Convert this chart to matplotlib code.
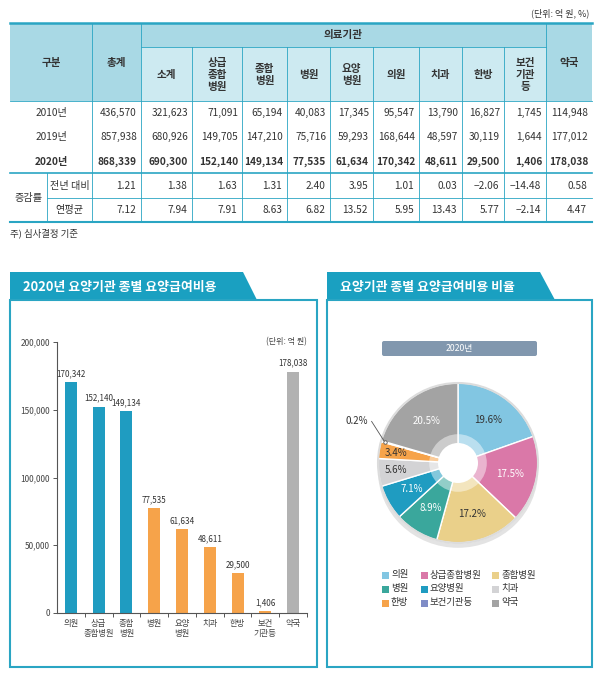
import matplotlib
matplotlib.use('Agg')
import matplotlib.pyplot as plt
import numpy as np
from matplotlib.patches import Rectangle, Polygon, FancyBboxPatch, Circle, Ellipse

plt.rcParams['font.family'] = ['Noto Sans CJK KR', 'DejaVu Sans']

W, H = 602, 677

# ---- table data ----
years = ['2010년', '2019년', '2020년']
col_heads = ['총계', '소계', '상급\n종합\n병원', '종합\n병원', '병원', '요양\n병원',
             '의원', '치과', '한방', '보건\n기관\n등', '약국']
vals_2010 = [436570, 321623, 71091, 65194, 40083, 17345, 95547, 13790, 16827, 1745, 114948]
vals_2019 = [857938, 680926, 149705, 147210, 75716, 59293, 168644, 48597, 30119, 1644, 177012]
vals_2020 = [868339, 690300, 152140, 149134, 77535, 61634, 170342, 48611, 29500, 1406, 178038]
rate_prev = [1.21, 1.38, 1.63, 1.31, 2.40, 3.95, 1.01, 0.03, -2.06, -14.48, 0.58]
rate_avg = [7.12, 7.94, 7.91, 8.63, 6.82, 13.52, 5.95, 13.43, 5.77, -2.14, 4.47]

# ---- chart data (2020) ----
cats = ['의원', '상급종합병원', '종합병원', '병원', '요양병원', '치과', '한방', '보건기관등', '약국']
cat_ticks = ['의원', '상급\n종합병원', '종합\n병원', '병원', '요양\n병원', '치과', '한방', '보건\n기관등', '약국']
bar_vals = [170342, 152140, 149134, 77535, 61634, 48611, 29500, 1406, 178038]
pie_pct = [19.6, 17.5, 17.2, 8.9, 7.1, 5.6, 3.4, 0.2, 20.5]

teal = '#2aa5c3'
banner = '#1aa0c1'
hd_dark = '#a9d9e5'
hd_light = '#cdeaf1'
txt = '#333333'

fig = plt.figure(figsize=(W / 100, H / 100), dpi=100)
bg = fig.add_axes([0, 0, 1, 1])
bg.set_xlim(0, W)
bg.set_ylim(H, 0)
bg.axis('off')


def fmt_rate(v):
    return f"{v:.2f}".replace('-', '\u2212')


# ---------------- table ----------------
xb = [10, 92, 141, 192, 242, 287, 330, 373, 419, 462, 504, 546, 592]
y_top, y_sub, y_hb, y_r, y_mid, y_bot = 23, 47, 101, 173, 198, 222

bg.text(589, 13, '(단위: 억 원, %)', ha='right', va='center', fontsize=6.5, color=txt)
bg.add_patch(Rectangle((xb[0], y_top), xb[-1] - xb[0], y_hb - y_top, color=hd_dark, lw=0))
bg.add_patch(Rectangle((xb[2], y_sub), xb[-2] - xb[2], y_hb - y_sub, color=hd_light, lw=0))

bg.plot([xb[0], xb[-1]], [y_top, y_top], color=teal, lw=1.8)
bg.plot([xb[0], xb[-1]], [y_hb, y_hb], color=teal, lw=0.6)
bg.plot([xb[2], xb[-2]], [y_sub, y_sub], color=teal, lw=0.6)
bg.plot([xb[0], xb[-1]], [y_r, y_r], color=teal, lw=1.2)
bg.plot([47, xb[-1]], [y_mid, y_mid], color=teal, lw=0.6)
bg.plot([xb[0], xb[-1]], [y_bot, y_bot], color=teal, lw=1.5)
for i, x in enumerate(xb[1:-1], start=1):
    y0 = y_sub if 2 < i < 11 else y_top
    bg.plot([x, x], [y0, y_bot], color=teal, lw=0.6)
bg.plot([47, 47], [y_r, y_bot], color=teal, lw=0.6)

hd_kw = dict(ha='center', va='center', fontsize=7.6, fontweight='bold', color=txt, linespacing=1.2)
bg.text((xb[0] + xb[1]) / 2, 63, '구분', **hd_kw)
bg.text((xb[2] + xb[-2]) / 2, 35, '의료기관', **hd_kw)
for i, h in enumerate(col_heads):
    cx = (xb[i + 1] + xb[i + 2]) / 2
    cy = 63 if i in (0, 10) else 75
    bg.text(cx, cy, h, **hd_kw)

row_y = [113, 137, 162]
for yr, vals, ry in zip(years, [vals_2010, vals_2019, vals_2020], row_y):
    fw = 'bold' if yr == '2020년' else 'normal'
    bg.text(51, ry, yr, ha='center', va='center', fontsize=7.3, color=txt, fontweight=fw)
    for i, v in enumerate(vals):
        bg.text(xb[i + 2] - 4, ry, f"{v:,}", ha='right', va='center',
                fontsize=7.3, color=txt, fontweight=fw)

bg.text(28.5, 197.5, '증감률', ha='center', va='center', fontsize=7.3, color=txt)
for lab, vals, ry in [('전년 대비', rate_prev, 186), ('연평균', rate_avg, 210)]:
    bg.text(69.5, ry, lab, ha='center', va='center', fontsize=7.3, color=txt)
    for i, v in enumerate(vals):
        bg.text(xb[i + 2] - 5, ry, fmt_rate(v), ha='right', va='center', fontsize=7.3, color=txt)

bg.text(10, 233, '주) 심사결정 기준', ha='left', va='center', fontsize=6.8, color=txt)

# ---------------- panels ----------------
bg.add_patch(Polygon([(10, 272), (243, 272), (257, 300), (10, 300)], color=banner, lw=0))
bg.add_patch(Polygon([(327, 272), (540, 272), (555, 300), (327, 300)], color=banner, lw=0))
bg.add_patch(Rectangle((10, 300), 307, 367, fill=False, ec=teal, lw=1.5))
bg.add_patch(Rectangle((327, 300), 265, 367, fill=False, ec=teal, lw=1.5))
bg.text(23, 287, '2020년 요양기관 종별 요양급여비용', ha='left', va='center',
        fontsize=9.3, fontweight='bold', color='white')
bg.text(340, 287, '요양기관 종별 요양급여비용 비율', ha='left', va='center',
        fontsize=9.3, fontweight='bold', color='white')

# ---------------- bar chart ----------------
blue, orange, gray = '#1f9cc1', '#f6a34a', '#b2b2b2'
bar_colors = [blue] * 3 + [orange] * 5 + [gray]
axb = fig.add_axes([57 / W, 1 - 613 / H, 250 / W, 271 / H])
x = np.arange(len(cats))
axb.bar(x, bar_vals, width=0.43, color=bar_colors)
axb.set_xlim(-0.5, len(cats) - 0.5)
axb.set_ylim(0, 200000)
for sp in ['top', 'right']:
    axb.spines[sp].set_visible(False)
for sp in ['left', 'bottom']:
    axb.spines[sp].set_color('#555555')
    axb.spines[sp].set_linewidth(0.8)
axb.set_yticks(np.arange(0, 200001, 50000))
axb.set_yticklabels([f"{int(v):,}" for v in np.arange(0, 200001, 50000)])
axb.set_xticks(x)
axb.set_xticklabels(cat_ticks, linespacing=1.2)
axb.set_xticks(np.arange(0.5, len(cats), 1), minor=True)
axb.tick_params(axis='x', which='major', length=0, pad=4, labelsize=6, labelcolor='#444444')
axb.tick_params(axis='x', which='minor', length=3, width=0.7, color='#555555')
axb.tick_params(axis='y', length=3, width=0.7, color='#555555', labelsize=6,
                labelcolor='#444444', pad=2)
for xi, v in zip(x, bar_vals):
    axb.text(xi, v + 3000, f"{v:,}", ha='center', va='bottom', fontsize=5.8, color='#333333')
axb.text(1.0, 1.0, '(단위: 억 원)', transform=axb.transAxes, ha='right', va='center',
         fontsize=5.8, color='#444444')

# ---------------- pie chart ----------------
bg.add_patch(FancyBboxPatch((382, 341), 155, 15, boxstyle='round,pad=0,rounding_size=2',
                            color='#8197ae', lw=0))
bg.text(459.5, 348.5, '2020년', ha='center', va='center', fontsize=6.3, color='white')

pie_colors = ['#82c6e2', '#da78a8', '#ead08a', '#3aa79c', '#1f9cc1',
              '#d3d3d5', '#f6a34a', '#7f8cc6', '#a3a3a3']
label_colors = ['#333333', 'white', '#333333', 'white', 'white',
                '#333333', '#333333', '#333333', 'white']
r_px = 80
axp = fig.add_axes([(458 - r_px) / W, 1 - (463 + r_px) / H, 2 * r_px / W, 2 * r_px / H])
axp.add_patch(Ellipse((0, -0.1), 2.0, 1.92, color='#e3e3e3', lw=0, clip_on=False))
axp.pie(pie_pct, colors=pie_colors, startangle=90, counterclock=False, radius=1.0,
        wedgeprops=dict(edgecolor='white', linewidth=1.0))
axp.set_xlim(-1, 1)
axp.set_ylim(-1, 1)
axp.set_aspect('equal')
axp.axis('off')
axp.add_patch(Circle((0, 0), 1.0, fill=False, ec='#dcdcdc', lw=1.5, clip_on=False))
axp.add_patch(Circle((0, 0), 0.36, color='white', alpha=0.45, lw=0))
axp.add_patch(Circle((0, 0), 0.25, color='white', lw=0))

cum = np.cumsum([0] + pie_pct)
for i, p in enumerate(pie_pct):
    mid = 90 - 3.6 * (cum[i] + p / 2)
    a = np.deg2rad(mid)
    if p < 1:
        px, py = 0.95 * np.cos(a), 0.95 * np.sin(a)
        axp.plot([-1.08, px], [0.52, py], color='#555555', lw=0.6, clip_on=False)
        axp.plot([px], [py], marker='o', ms=2.5, mfc='white', mec='#555555', mew=0.6,
                 clip_on=False)
        axp.text(-1.12, 0.52, f"{p}%", ha='right', va='center', fontsize=7, color='#333333')
        continue
    r = 0.78 if p < 6 else 0.66
    axp.text(r * np.cos(a), r * np.sin(a), f"{p}%", ha='center', va='center',
             fontsize=7, color=label_colors[i])

# legend
leg_x = [385, 424, 495]
leg_y = [575, 589, 603]
for i, c in enumerate(cats):
    lx, ly = leg_x[i % 3], leg_y[i // 3]
    bg.add_patch(Rectangle((lx - 3.5, ly - 3.5), 7, 7, color=pie_colors[i], lw=0))
    bg.text(lx + 6, ly, c, ha='left', va='center', fontsize=6.8, color='#333333')

fig.savefig('out.png', dpi=100)
